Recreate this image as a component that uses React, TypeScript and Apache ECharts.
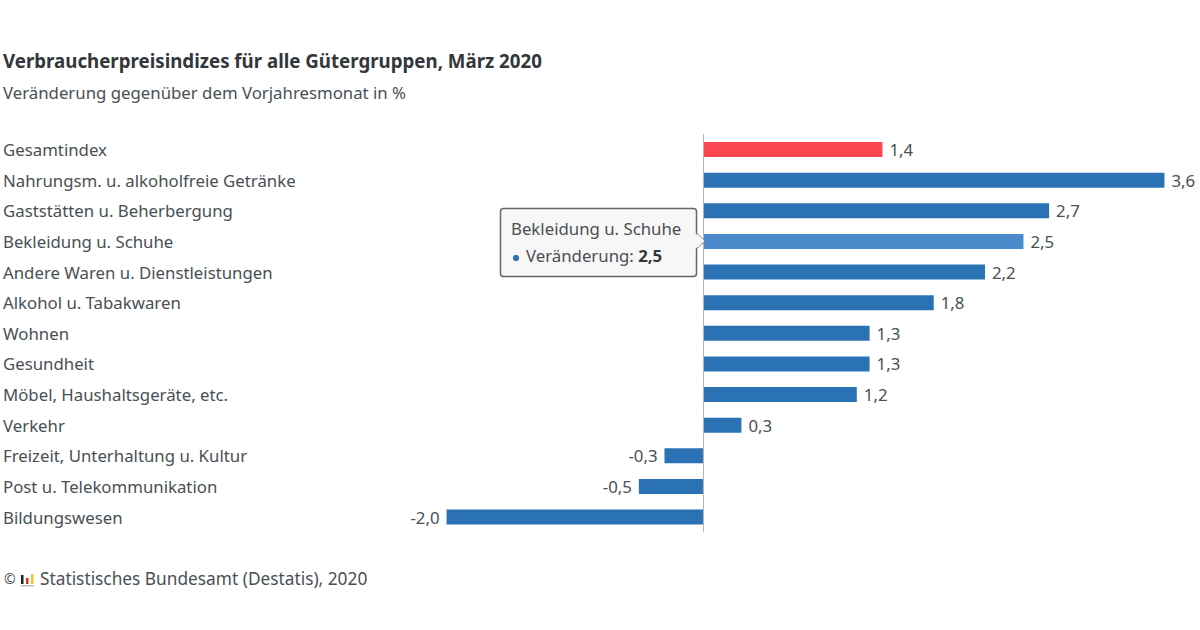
import React, { useEffect, useRef } from "react";
import * as echarts from "echarts";

const titleText = "Verbraucherpreisindizes für alle Gütergruppen, März 2020";
const subtitleText = "Veränderung gegenüber dem Vorjahresmonat in %";
const creditText = "Statistisches Bundesamt (Destatis), 2020";
const tooltipHead = "Bekleidung u. Schuhe";
const tooltipLabel = "Veränderung: ";
const tooltipValue = "2,5";

const categories = [
  "Gesamtindex",
  "Nahrungsm. u. alkoholfreie Getränke",
  "Gaststätten u. Beherbergung",
  "Bekleidung u. Schuhe",
  "Andere Waren u. Dienstleistungen",
  "Alkohol u. Tabakwaren",
  "Wohnen",
  "Gesundheit",
  "Möbel, Haushaltsgeräte, etc.",
  "Verkehr",
  "Freizeit, Unterhaltung u. Kultur",
  "Post u. Telekommunikation",
  "Bildungswesen",
];
const values = [1.4, 3.6, 2.7, 2.5, 2.2, 1.8, 1.3, 1.3, 1.2, 0.3, -0.3, -0.5, -2.0];

const FONT = "'Noto Sans', sans-serif";
const SIZE = 16.8;
const BLUE = "#2b72b5";
const RED = "#fa4650";
const HOVER = "#4a8acb";
const TEXT = "#4a4f55";

const colorFor = (i: number) => (i === 0 ? RED : i === 3 ? HOVER : BLUE);

export default function App() {
  const ref = useRef<HTMLDivElement>(null);
  useEffect(() => {
    const chart = echarts.init(ref.current!, undefined, { renderer: "svg" });
    chart.setOption({
      animation: false,
      backgroundColor: "#ffffff",
      grid: { left: 3, top: 134.2, width: 1187.1, height: 398.2 },
      xAxis: { type: "value", min: -5.46, max: 3.8, show: false },
      yAxis: {
        type: "category",
        inverse: true,
        data: categories,
        axisTick: { show: false },
        axisLine: { show: false, onZero: false },
        axisLabel: {
          inside: true,
          align: "left",
          margin: 0,
          fontFamily: FONT,
          fontSize: SIZE,
          color: TEXT,
        },
      },
      series: [
        {
          type: "bar",
          barWidth: 15,
          silent: true,
          data: values.map((v, i) => ({
            value: v,
            itemStyle: { color: colorFor(i) },
            label: { position: v < 0 ? "left" : "right" },
          })),
          label: {
            show: true,
            distance: 7,
            fontFamily: FONT,
            fontSize: SIZE,
            color: TEXT,
            formatter: (p: any) => Number(p.value).toFixed(1).replace(".", ","),
          },
          markLine: {
            silent: true,
            symbol: "none",
            label: { show: false },
            lineStyle: { color: "#b4b4b4", width: 1, type: "solid" },
            data: [{ xAxis: 0 }],
          },
        },
      ],
      title: [
        {
          text: titleText,
          left: 3,
          top: 51,
          padding: 0,
          textStyle: { fontFamily: FONT, fontSize: 18.7, fontWeight: 700, color: "#33363a" },
        },
        {
          text: subtitleText,
          left: 3,
          top: 84,
          padding: 0,
          textStyle: { fontFamily: FONT, fontSize: SIZE, fontWeight: 400, color: TEXT },
        },
        {
          text: creditText,
          left: 40,
          top: 570,
          padding: 0,
          textStyle: { fontFamily: FONT, fontSize: 17.3, fontWeight: 400, color: TEXT },
        },
      ],
      graphic: [
        { type: "text", x: 4, y: 571, style: { text: "©", fontFamily: FONT, fontSize: 14, fill: TEXT } },
        { type: "rect", shape: { x: 21, y: 575, width: 2.5, height: 9 }, style: { fill: "#222222" } },
        { type: "rect", shape: { x: 26, y: 578, width: 2.5, height: 6 }, style: { fill: "#d0342c" } },
        { type: "rect", shape: { x: 31, y: 574, width: 2.5, height: 10 }, style: { fill: "#f2c230" } },
        { type: "rect", shape: { x: 21, y: 585, width: 13, height: 1.5 }, style: { fill: "#bbbbbb" } },
        {
          type: "rect",
          z: 50,
          shape: { x: 500.5, y: 208.5, width: 196, height: 68, r: 3 },
          style: { fill: "#f7f7f7", stroke: "#666666", lineWidth: 1.5 },
        },
        {
          type: "polygon",
          z: 51,
          shape: { points: [[695, 233], [705, 241], [695, 249]] },
          style: { fill: "#f7f7f7" },
        },
        {
          type: "polyline",
          z: 52,
          shape: { points: [[696.5, 233], [705, 241], [696.5, 249]] },
          style: { stroke: "#8a8a8a", lineWidth: 1, fill: "none" },
        },
        { type: "text", z: 53, x: 511, y: 220, style: { text: tooltipHead, fontFamily: FONT, fontSize: SIZE, fill: TEXT } },
        { type: "circle", z: 53, shape: { cx: 516, cy: 258, r: 3.2 }, style: { fill: BLUE } },
        {
          type: "text",
          z: 53,
          x: 526,
          y: 247,
          style: {
            text: `{a|${tooltipLabel}}{b|${tooltipValue}}`,
            rich: {
              a: { fontFamily: FONT, fontSize: SIZE, fill: TEXT, color: TEXT },
              b: { fontFamily: FONT, fontSize: SIZE, fontWeight: 700, fill: "#33363a", color: "#33363a" },
            },
          },
        },
      ],
    });
    return () => chart.dispose();
  }, []);
  return <div ref={ref} style={{ position: "fixed", left: 0, top: 0, width: 1200, height: 630 }} />;
}
